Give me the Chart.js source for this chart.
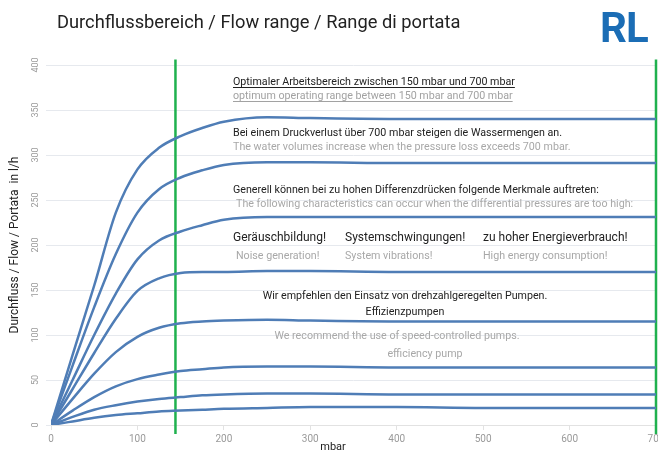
<!DOCTYPE html>
<html>
<head>
<meta charset="utf-8">
<script src="https://cdn.jsdelivr.net/npm/chart.js@4"></script>
<style>
    html, body { margin: 0; padding: 0; background: #fff; overflow: hidden; }
    #wrap { position: relative; width: 658px; height: 450px; overflow: hidden; }
    #chart { position: absolute; left: 0; top: 0; }
    #title { position: absolute; left: 57px; top: 11px; font: 18.3px Roboto, sans-serif; color: #222; white-space: nowrap; }
    #logo { position: absolute; left: 600px; top: 3px; font: bold 42px Roboto, sans-serif; color: #1b6db5; letter-spacing: -1px; }
</style>
</head>
<body>
<div id="wrap">
    <canvas id="chart" width="680" height="450"></canvas>
    <div id="title">Durchflussbereich / Flow range / Range di portata</div>
    <div id="logo">RL</div>
</div>
<script>
// pressure loss in mbar (x positions of the sampled points)
const pressure = [0, 25, 50, 75, 100, 125, 150, 175, 200, 250, 300, 400, 500, 600, 700];

// flow curves in l/h, top to bottom
const flow1 = [0, 78, 155, 236, 284, 308, 321, 330, 337, 342, 341, 340, 340, 340, 340];
const flow2 = [0, 66, 131, 190, 236, 262, 275, 283, 289, 292, 292, 291, 291, 291, 291];
const flow3 = [0, 50, 100, 146, 184, 205, 215, 222, 228, 231, 231, 231, 231, 231, 231];
const flow4 = [0, 40, 80, 118, 149, 163, 169, 170, 170, 171, 171, 170, 170, 170, 170];
const flow5 = [0, 29, 57, 81, 98, 108, 113, 115, 116, 117, 116, 115, 115, 115, 115];
const flow6 = [0, 16, 31, 43, 51, 56, 60, 62, 64, 65, 65, 64, 64, 64, 64];
const flow7 = [0, 9, 17, 22, 26, 29, 31, 33, 34, 35, 35, 34, 34, 34, 34];
const flow8 = [0, 4, 8, 11, 13, 15, 16, 17, 18, 19, 20, 20, 19, 19, 19];

// optimum range limits (green markers)
const rangeLimits = [144, 700];
const rangeSpan = [-10, 406];

const xTicks = [0, 100, 200, 300, 400, 500, 600, 700];
const yTicks = [0, 50, 100, 150, 200, 250, 300, 350, 400];

const curves = [flow1, flow2, flow3, flow4, flow5, flow6, flow7, flow8];

const datasets = curves.map(function(values) {
    return {
        data: values.map(function(v, i) { return { x: pressure[i], y: v }; }),
        borderColor: '#4f7db6',
        borderWidth: 2.5,
        pointRadius: 0,
        cubicInterpolationMode: 'monotone',
        fill: false
    };
});

rangeLimits.forEach(function(limit) {
    datasets.push({
        data: rangeSpan.map(function(v) { return { x: limit, y: v }; }),
        borderColor: '#1fb14e',
        borderWidth: 2.5,
        pointRadius: 0,
        clip: false
    });
});

// annotation texts: [text, x, y, colour, size, align, underline]
const notes = [
    ['Optimaler Arbeitsbereich zwischen 150 mbar und 700 mbar', 233, 82, '#222', 10.7, 'left', true],
    ['optimum operating range between 150 mbar and 700 mbar', 233, 96, '#a2a2a2', 10.7, 'left', true],
    ['Bei einem Druckverlust über 700 mbar steigen die Wassermengen an.', 233, 133, '#222', 10.7, 'left', false],
    ['The water volumes increase when the pressure loss exceeds 700 mbar.', 233, 147, '#a8a8a8', 10.7, 'left', false],
    ['Generell können bei zu hohen Differenzdrücken folgende Merkmale auftreten:', 233, 190, '#222', 10.7, 'left', false],
    ['The following characteristics can occur when the differential pressures are too high:', 236, 204, '#a8a8a8', 10.7, 'left', false],
    ['Geräuschbildung!', 233, 238, '#222', 12, 'left', false],
    ['Systemschwingungen!', 345, 238, '#222', 12, 'left', false],
    ['zu hoher Energieverbrauch!', 483, 238, '#222', 12, 'left', false],
    ['Noise generation!', 236, 256, '#a8a8a8', 10.7, 'left', false],
    ['System vibrations!', 345, 256, '#a8a8a8', 10.7, 'left', false],
    ['High energy consumption!', 483, 256, '#a8a8a8', 10.7, 'left', false],
    ['Wir empfehlen den Einsatz von drehzahlgeregelten Pumpen.', 405, 296, '#222', 10.7, 'center', false],
    ['Effizienzpumpen', 405, 312, '#222', 10.7, 'center', false],
    ['We recommend the use of speed-controlled pumps.', 397, 336, '#a8a8a8', 10.7, 'center', false],
    ['efficiency pump', 425, 354, '#a8a8a8', 10.7, 'center', false],
    ['mbar', 333, 447, '#222', 11, 'center', false]
];

const notesPlugin = {
    id: 'notes',
    afterDraw: function(chart) {
        const ctx = chart.ctx;
        ctx.save();
        ctx.textBaseline = 'middle';
        notes.forEach(function(n) {
            ctx.font = n[4] + 'px Roboto, sans-serif';
            ctx.fillStyle = n[3];
            ctx.textAlign = n[5];
            ctx.fillText(n[0], n[1], n[2]);
            if (n[6]) {
                const w = ctx.measureText(n[0]).width;
                ctx.fillRect(n[1], n[2] + 5, w, 1);
            }
        });
        ctx.restore();
    }
};

new Chart(document.getElementById('chart'), {
    type: 'line',
    data: { datasets: datasets },
    plugins: [notesPlugin],
    options: {
        responsive: false,
        animation: false,
        events: [],
        layout: { padding: { top: 65, right: 24, left: 0, bottom: 0 } },
        plugins: {
            legend: { display: false },
            tooltip: { enabled: false }
        },
        scales: {
            x: {
                type: 'linear',
                min: 0,
                max: 700,
                afterBuildTicks: function(scale) {
                    scale.ticks = xTicks.map(function(v) { return { value: v }; });
                },
                afterFit: function(scale) { scale.height = 25; },
                grid: { drawOnChartArea: false, color: '#e2e2e2', tickLength: 5 },
                border: { color: '#e2e2e2' },
                ticks: { color: '#9a9a9a', font: { family: 'Roboto', size: 10 }, padding: 3, maxRotation: 0 }
            },
            y: {
                type: 'linear',
                min: 0,
                max: 400,
                afterBuildTicks: function(scale) {
                    scale.ticks = yTicks.map(function(v) { return { value: v }; });
                },
                afterFit: function(scale) { scale.width = 51; },
                grid: { color: '#e6e9ee', tickLength: 5 },
                border: { display: false },
                ticks: {
                    color: '#9a9a9a',
                    font: { family: 'Roboto', size: 9 },
                    minRotation: 90,
                    maxRotation: 90,
                    crossAlign: 'center',
                    padding: 3
                },
                title: {
                    display: true,
                    text: 'Durchfluss / Flow / Portata  in l/h',
                    color: '#222',
                    font: { family: 'Roboto', size: 12 },
                    padding: { top: 8, bottom: 0 }
                }
            }
        }
    }
});
</script>
</body>
</html>
